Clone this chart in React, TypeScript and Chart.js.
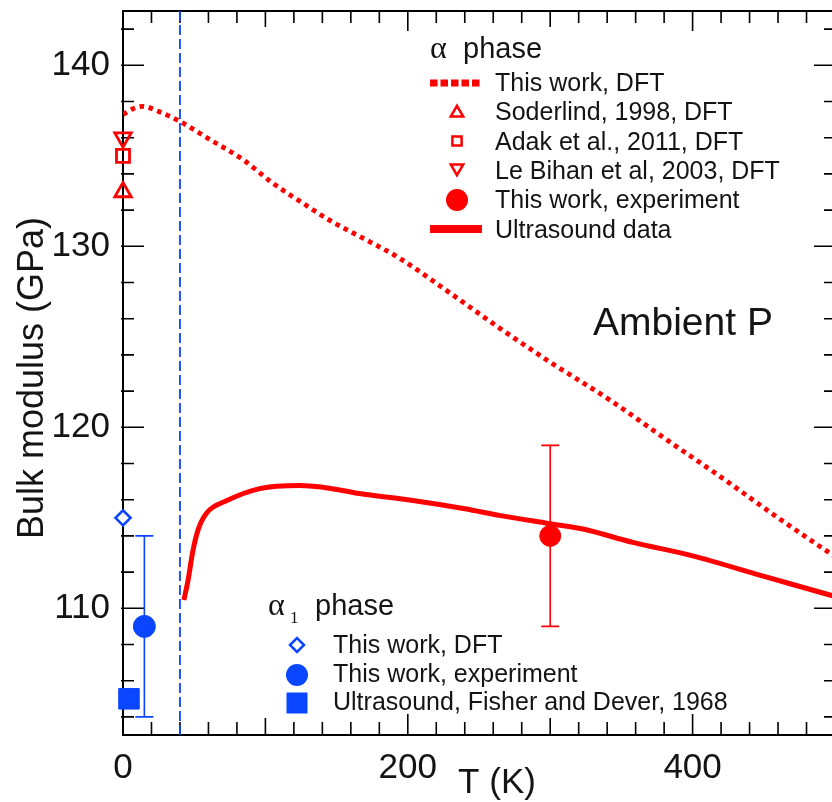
import React, { useEffect, useRef } from 'react';
import { Chart, registerables } from 'chart.js';

Chart.register(...registerables);

const CANVAS_W = 850;
const CANVAS_H = 802;

// Axis ranges
const T_MIN = 0;
const T_MAX = 500;
const B_MIN = 103;
const B_MAX = 143;

const xTickLabels = [0, 200, 400];
const yTickLabels = [110, 120, 130, 140];

// α phase – this work, DFT (bulk modulus vs temperature)
const dftTemp = [0, 7, 14, 25, 40, 61, 84, 105, 124, 147, 171, 194, 230, 265, 300, 342, 382, 419, 460, 500];
const dftBulk = [137.28, 137.6, 137.73, 137.45, 136.9, 135.9, 134.8, 133.5, 132.5, 131.35, 130.35, 129.35, 127.4, 125.45, 123.6, 121.5, 119.3, 117.3, 115.0, 112.85];

// α phase – ultrasound data
const usTemp = [42.8, 45.6, 49.1, 53, 58.9, 73, 96, 124, 147, 166, 200, 240, 265, 298.5, 323, 358, 400, 449, 497, 500];
const usBulk = [110.46, 111.51, 113.18, 114.4, 115.28, 115.95, 116.61, 116.78, 116.61, 116.34, 116.0, 115.5, 115.12, 114.69, 114.38, 113.64, 112.9, 111.79, 110.72, 110.65];

// α phase – literature DFT values (T, B)
const soderlind1998 = [0, 133];
const adak2011 = [0, 135];
const leBihan2003 = [0, 136];

// α phase – this work, experiment (T, B) with error range
const alphaExp = [300, 114];
const alphaExpErr = [109, 119];

// α1 phase
const alpha1Dft = [0, 115];
const alpha1Exp = [15, 109];
const alpha1ExpErr = [104, 114];
const alpha1Ultrasound = [4.2, 105];

// α → α1 transition temperature
const transitionTemp = 40;

const RED = '#ff0000';
const BLUE = '#0a46ff';
const TEXT = '#141414';
const SANS = '"Liberation Sans", Arial, Helvetica, sans-serif';
const SERIF = '"Liberation Serif", "Times New Roman", serif';

type Shape = 'triangle' | 'triangleDown' | 'rect' | 'circle' | 'diamond';

function markerPath(ctx: CanvasRenderingContext2D, shape: Shape, x: number, y: number, r: number) {
  ctx.beginPath();
  if (shape === 'circle') {
    ctx.arc(x, y, r, 0, Math.PI * 2);
  } else if (shape === 'rect') {
    ctx.rect(x - r, y - r, 2 * r, 2 * r);
  } else if (shape === 'diamond') {
    ctx.moveTo(x - r, y);
    ctx.lineTo(x, y - r);
    ctx.lineTo(x + r, y);
    ctx.lineTo(x, y + r);
    ctx.closePath();
  } else {
    const s = shape === 'triangle' ? 1 : -1;
    const h = r * Math.sqrt(3) / 2;
    ctx.moveTo(x, y - s * r);
    ctx.lineTo(x + h, y + s * r / 2);
    ctx.lineTo(x - h, y + s * r / 2);
    ctx.closePath();
  }
}

function drawMarker(ctx: CanvasRenderingContext2D, shape: Shape, x: number, y: number, r: number, color: string, filled: boolean, fill = 'rgba(0,0,0,0)', lw = 2.5) {
  markerPath(ctx, shape, x, y, r);
  ctx.fillStyle = filled ? color : fill;
  ctx.fill();
  if (!filled) {
    ctx.strokeStyle = color;
    ctx.lineWidth = lw;
    ctx.stroke();
  }
}

// Frame with inward tick marks on all four sides
const framePlugin = {
  id: 'frame',
  beforeDatasetsDraw(chart: any) {
    const { ctx, chartArea: a, scales } = chart;
    const x = scales.x;
    const y = scales.y;
    ctx.save();
    ctx.strokeStyle = '#000';
    ctx.lineWidth = 2;
    ctx.strokeRect(a.left, a.top, a.right - a.left, a.bottom - a.top);
    ctx.lineWidth = 1.6;
    ctx.beginPath();
    for (let t = T_MIN + 20; t < T_MAX; t += 20) {
      const px = x.getPixelForValue(t);
      const lb = t % 200 === 0 ? 21 : t % 100 === 0 ? 17 : 13;
      const lt = t % 200 === 0 ? 20 : t % 100 === 0 ? 16 : 12;
      ctx.moveTo(px, a.bottom);
      ctx.lineTo(px, a.bottom - lb);
      ctx.moveTo(px, a.top);
      ctx.lineTo(px, a.top + lt);
    }
    for (let b = 104; b < B_MAX; b += 2) {
      const py = y.getPixelForValue(b);
      const len = b % 10 === 0 ? 21 : 11;
      ctx.moveTo(a.left - 2, py);
      ctx.lineTo(a.left + len, py);
      ctx.moveTo(a.right + 2, py);
      ctx.lineTo(a.right - len, py);
    }
    ctx.stroke();
    ctx.restore();
  },
};

// Vertical error bars with caps, drawn under the markers
const errorBarPlugin = {
  id: 'errorBars',
  beforeDatasetDraw(chart: any, args: any) {
    const ds = chart.data.datasets[args.index];
    if (!ds.errorBars) return;
    const { ctx, scales } = chart;
    ctx.save();
    ctx.strokeStyle = ds.borderColor;
    ctx.lineWidth = 1.6;
    ds.data.forEach((p: any, i: number) => {
      const [lo, hi] = ds.errorBars[i];
      const px = scales.x.getPixelForValue(p.x);
      const pLo = scales.y.getPixelForValue(lo);
      const pHi = scales.y.getPixelForValue(hi);
      ctx.beginPath();
      ctx.moveTo(px, pLo);
      ctx.lineTo(px, pHi);
      ctx.moveTo(px - 9, pLo);
      ctx.lineTo(px + 9, pLo);
      ctx.moveTo(px - 9, pHi);
      ctx.lineTo(px + 9, pHi);
      ctx.stroke();
    });
    ctx.restore();
  },
};

// Axis titles, annotation and the two phase legends
const textPlugin = {
  id: 'texts',
  afterDraw(chart: any) {
    const { ctx } = chart;
    ctx.save();
    ctx.fillStyle = TEXT;
    ctx.textBaseline = 'alphabetic';

    // y-axis title
    ctx.save();
    ctx.translate(43, 378);
    ctx.rotate(-Math.PI / 2);
    ctx.textAlign = 'center';
    ctx.font = `36px ${SANS}`;
    ctx.fillText('Bulk modulus (GPa)', 0, 0);
    ctx.restore();

    // x-axis title
    ctx.textAlign = 'center';
    ctx.font = `35px ${SANS}`;
    ctx.fillText('T (K)', 497, 793);

    // annotation
    ctx.textAlign = 'left';
    ctx.font = `39px ${SANS}`;
    ctx.fillText('Ambient P', 593, 335);

    // α phase legend
    ctx.font = `32px ${SERIF}`;
    ctx.fillText('α', 430, 58);
    ctx.font = `29px ${SANS}`;
    ctx.fillText('phase', 463, 58);

    const topRows = [
      'This work, DFT',
      'Soderlind, 1998, DFT',
      'Adak et al., 2011, DFT',
      'Le Bihan et al, 2003, DFT',
      'This work, experiment',
      'Ultrasound data',
    ];
    ctx.font = `25px ${SANS}`;
    topRows.forEach((s, i) => ctx.fillText(s, 495, 91 + 29.3 * i));

    ctx.strokeStyle = RED;
    ctx.lineWidth = 7;
    ctx.setLineDash([7.5, 3]);
    ctx.beginPath();
    ctx.moveTo(430, 83);
    ctx.lineTo(481, 83);
    ctx.stroke();
    ctx.setLineDash([]);
    ctx.lineWidth = 8;
    ctx.beginPath();
    ctx.moveTo(430, 229);
    ctx.lineTo(482, 229);
    ctx.stroke();
    drawMarker(ctx, 'triangle', 457, 113, 7.2, RED, false);
    drawMarker(ctx, 'rect', 457, 141, 4.6, RED, false);
    drawMarker(ctx, 'triangleDown', 457, 168, 7.2, RED, false);
    drawMarker(ctx, 'circle', 457, 200, 11, RED, true);

    // α1 phase legend
    ctx.fillStyle = TEXT;
    ctx.font = `32px ${SERIF}`;
    ctx.fillText('α', 268, 615);
    ctx.font = `17px ${SERIF}`;
    ctx.fillText('1', 290, 623);
    ctx.font = `29px ${SANS}`;
    ctx.fillText('phase', 315, 615);
    const bottomRows = ['This work, DFT', 'This work, experiment', 'Ultrasound, Fisher and Dever, 1968'];
    ctx.font = `25px ${SANS}`;
    bottomRows.forEach((s, i) => ctx.fillText(s, 333, 653 + 28.5 * i));
    drawMarker(ctx, 'diamond', 297, 645, 7, BLUE, false, '#ffffff');
    drawMarker(ctx, 'circle', 297, 675, 11, BLUE, true);
    drawMarker(ctx, 'rect', 297, 703, 10.5, BLUE, true);

    ctx.restore();
  },
};

const pt = (p: number[]) => [{ x: p[0], y: p[1] }];

const noPadding = (scale: any) => {
  scale.paddingTop = 0;
  scale.paddingBottom = 0;
  scale.paddingLeft = 0;
  scale.paddingRight = 0;
};

export default function App() {
  const canvasRef = useRef<HTMLCanvasElement | null>(null);

  useEffect(() => {
    const canvas = canvasRef.current;
    if (!canvas) return;

    const markerBase = { showLine: false, clip: false as any, pointHoverRadius: 0 };

    const chart = new Chart(canvas, {
      type: 'scatter',
      data: {
        datasets: [
          {
            label: 'α phase, this work, DFT',
            data: dftTemp.map((t, i) => ({ x: t, y: dftBulk[i] })),
            showLine: true,
            borderColor: RED,
            borderWidth: 4.8,
            borderDash: [4.6, 4.6],
            borderCapStyle: 'butt',
            cubicInterpolationMode: 'monotone',
            pointRadius: 0,
            fill: false,
          },
          {
            label: 'α phase, ultrasound data',
            data: usTemp.map((t, i) => ({ x: t, y: usBulk[i] })),
            showLine: true,
            borderColor: RED,
            borderWidth: 5,
            cubicInterpolationMode: 'monotone',
            pointRadius: 0,
            fill: false,
          },
          {
            label: 'α–α1 transition',
            data: [
              { x: transitionTemp, y: B_MIN },
              { x: transitionTemp, y: B_MAX },
            ],
            showLine: true,
            borderColor: BLUE,
            borderWidth: 1.8,
            borderDash: [10, 4],
            pointRadius: 0,
            fill: false,
          },
          {
            ...markerBase,
            label: 'Soderlind, 1998, DFT',
            data: pt(soderlind1998),
            pointStyle: 'triangle',
            pointRadius: 9.5,
            borderColor: RED,
            backgroundColor: 'rgba(0,0,0,0)',
            borderWidth: 2.8,
          },
          {
            ...markerBase,
            label: 'Adak et al., 2011, DFT',
            data: pt(adak2011),
            pointStyle: 'rect',
            pointRadius: 9.2,
            borderColor: RED,
            backgroundColor: 'rgba(0,0,0,0)',
            borderWidth: 2.8,
          },
          {
            ...markerBase,
            label: 'Le Bihan et al, 2003, DFT',
            data: pt(leBihan2003),
            pointStyle: 'triangle',
            pointRotation: 180,
            pointRadius: 9.5,
            borderColor: RED,
            backgroundColor: 'rgba(0,0,0,0)',
            borderWidth: 2.8,
          },
          {
            ...markerBase,
            label: 'α phase, this work, experiment',
            data: pt(alphaExp),
            errorBars: [alphaExpErr],
            pointStyle: 'circle',
            pointRadius: 10.5,
            borderColor: RED,
            backgroundColor: RED,
            borderWidth: 1,
          } as any,
          {
            ...markerBase,
            label: 'α1 phase, this work, DFT',
            data: pt(alpha1Dft),
            pointStyle: 'rectRot',
            pointRadius: 7.5,
            borderColor: BLUE,
            backgroundColor: '#ffffff',
            borderWidth: 2.6,
          },
          {
            ...markerBase,
            label: 'α1 phase, this work, experiment',
            data: pt(alpha1Exp),
            errorBars: [alpha1ExpErr],
            pointStyle: 'circle',
            pointRadius: 11,
            borderColor: BLUE,
            backgroundColor: BLUE,
            borderWidth: 1,
          } as any,
          {
            ...markerBase,
            label: 'Ultrasound, Fisher and Dever, 1968',
            data: pt(alpha1Ultrasound),
            pointStyle: 'rect',
            pointRadius: 14.5,
            borderColor: BLUE,
            backgroundColor: BLUE,
            borderWidth: 1,
          },
        ] as any,
      },
      options: {
        animation: false,
        responsive: false,
        devicePixelRatio: 1,
        events: [],
        layout: { autoPadding: false, padding: { top: 11, right: 15, left: 0, bottom: 0 } },
        plugins: {
          legend: { display: false },
          title: { display: false },
          tooltip: { enabled: false },
        },
        scales: {
          x: {
            type: 'linear',
            min: T_MIN,
            max: T_MAX,
            grid: { display: false, drawTicks: false },
            border: { display: false },
            afterBuildTicks: (scale: any) => {
              scale.ticks = xTickLabels.map((v) => ({ value: v }));
            },
            afterFit: (scale: any) => {
              scale.height = 67;
              noPadding(scale);
            },
            ticks: {
              autoSkip: false,
              maxRotation: 0,
              padding: 12,
              color: TEXT,
              font: { family: SANS, size: 35 },
              callback: (v: any) => String(v),
            },
          },
          y: {
            type: 'linear',
            min: B_MIN,
            max: B_MAX,
            grid: { display: false, drawTicks: false },
            border: { display: false },
            afterBuildTicks: (scale: any) => {
              scale.ticks = yTickLabels.map((v) => ({ value: v }));
            },
            afterFit: (scale: any) => {
              scale.width = 123;
              noPadding(scale);
            },
            ticks: {
              autoSkip: false,
              padding: 13,
              color: TEXT,
              font: { family: SANS, size: 35 },
              callback: (v: any) => String(v),
            },
          },
        },
      } as any,
      plugins: [framePlugin, errorBarPlugin, textPlugin],
    });

    return () => chart.destroy();
  }, []);

  return (
    <div style={{ position: 'fixed', left: 0, top: 0, width: 832, height: CANVAS_H, overflow: 'hidden', background: '#fff' }}>
      <canvas ref={canvasRef} width={CANVAS_W} height={CANVAS_H} style={{ width: CANVAS_W, height: CANVAS_H, display: 'block' }} />
    </div>
  );
}
